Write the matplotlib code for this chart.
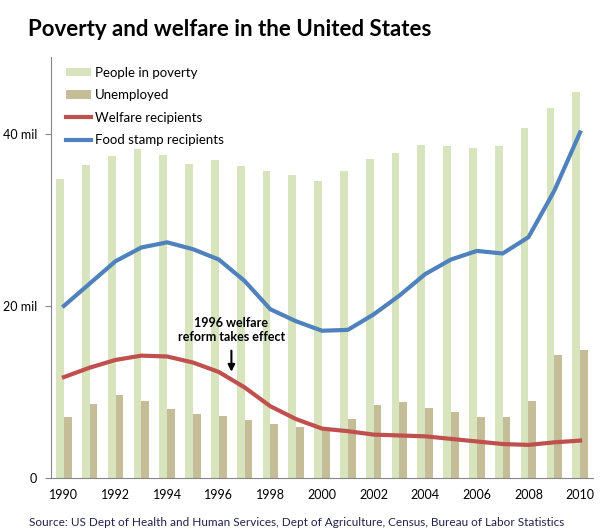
import numpy as np
import matplotlib
matplotlib.use("Agg")
import matplotlib.pyplot as plt
from matplotlib.patches import Patch
from matplotlib.lines import Line2D

matplotlib.rcParams['font.family'] = 'Lato'

years = list(range(1990, 2011))
poverty = [34.8, 36.4, 37.5, 38.3, 37.6, 36.5, 37.0, 36.3, 35.7, 35.3,
           34.5, 35.7, 37.1, 37.8, 38.7, 38.6, 38.4, 38.6, 40.7, 43.1, 44.9]
unemployed = [7.0, 8.6, 9.6, 8.9, 8.0, 7.4, 7.2, 6.7, 6.2, 5.9,
              5.7, 6.8, 8.4, 8.8, 8.1, 7.6, 7.0, 7.0, 8.9, 14.3, 14.8]
welfare = [11.7, 12.8, 13.7, 14.2, 14.1, 13.4, 12.3, 10.5, 8.3, 6.8,
           5.7, 5.4, 5.0, 4.9, 4.8, 4.5, 4.2, 3.9, 3.8, 4.1, 4.3]
food_stamps = [20.0, 22.6, 25.2, 26.8, 27.4, 26.6, 25.4, 22.9, 19.6, 18.2,
               17.1, 17.2, 19.0, 21.2, 23.7, 25.4, 26.4, 26.1, 28.0, 33.4, 40.2]

c_pov = "#D7E4BD"
c_unemp = "#C4BD97"
c_welf = "#C0504D"
c_food = "#4F81BD"
c_axis = "#868686"

x = np.arange(len(years))
w = 0.3

fig = plt.figure(figsize=(6.06, 5.32), dpi=100)
ax = fig.add_axes([0.0842, 0.1024, 0.8943, 0.7906])

ax.bar(x - w/2, poverty, width=w, color=c_pov, zorder=1)
ax.bar(x + w/2, unemployed, width=w, color=c_unemp, zorder=1)
ax.plot(x, welfare, color=c_welf, linewidth=3, solid_joinstyle="round", zorder=3)
ax.plot(x, food_stamps, color=c_food, linewidth=3, solid_joinstyle="round", zorder=3)

ax.set_xlim(-0.5, 20.5)
ax.set_ylim(0, 49)
ax.set_yticks([0, 20, 40])
ax.set_yticklabels(["0", "20 mil", "40 mil"])
ax.set_xticks(x[::2])
ax.set_xticklabels([str(y) for y in years[::2]])
ax.tick_params(axis="y", length=4, color=c_axis, labelsize=9, pad=6)
ax.tick_params(axis="x", length=0, labelsize=9, pad=8)

for s in ["top", "right"]:
    ax.spines[s].set_visible(False)
for s in ["left", "bottom"]:
    ax.spines[s].set_color(c_axis)

# annotation
ax.annotate("", xy=(6.49, 12.0), xytext=(6.49, 15.1),
            arrowprops=dict(arrowstyle="-|>", color="black", lw=1.5, mutation_scale=10))
ax.text(6.49, 17.2, "1996 welfare\nreform takes effect", ha="center", va="center",
        fontsize=9, fontweight="bold", linespacing=1.2)

handles = [
    Patch(facecolor=c_pov, label="People in poverty"),
    Patch(facecolor=c_unemp, label="Unemployed"),
    Line2D([0], [0], color=c_welf, lw=3, label="Welfare recipients"),
    Line2D([0], [0], color=c_food, lw=3, label="Food stamp recipients"),
]
ax.legend(handles=handles, loc="upper left", bbox_to_anchor=(0.005, 1.005),
          frameon=False, fontsize=9.5, handlelength=1.9, handleheight=0.6,
          handletextpad=0.3, labelspacing=0.8)

fig.text(0.046, 0.945, "Poverty and welfare in the United States",
         fontsize=16, fontweight="bold", va="center")
fig.text(0.048, 0.018, "Source: US Dept of Health and Human Services, Dept of Agriculture, "
         "Census, Bureau of Labor Statistics", fontsize=8.5, color="#22224a", va="center")

plt.savefig("out.png", dpi=100)
